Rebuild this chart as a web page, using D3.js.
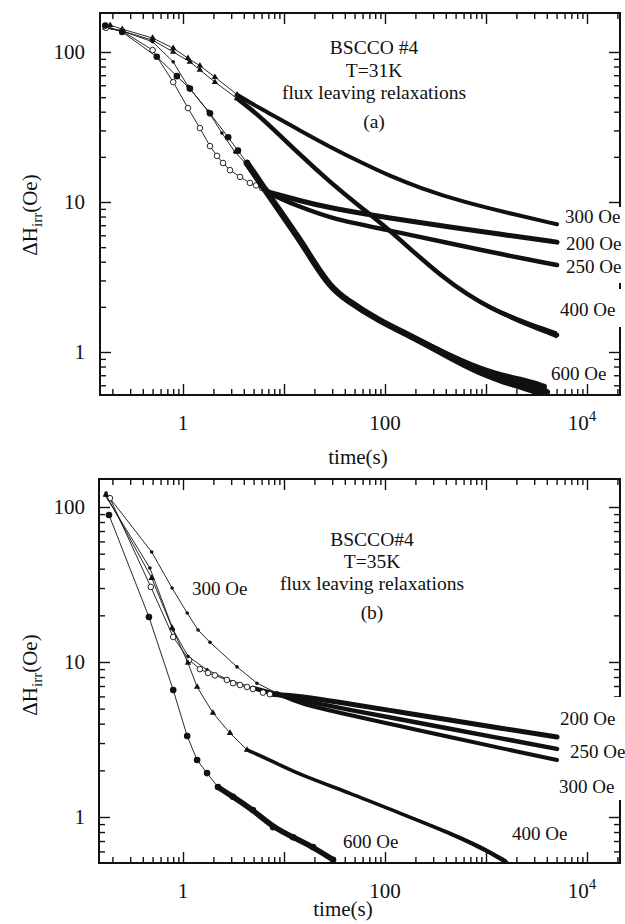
<!DOCTYPE html>
<html>
<head>
<meta charset="utf-8">
<script src="https://cdn.jsdelivr.net/npm/d3@7"></script>
<style>
  body { margin: 0; background: #fff; }
  svg text { font-family: "Liberation Serif", "Times New Roman", serif; fill: #111; }
</style>
</head>
<body>
<svg id="chart" width="625" height="924"></svg>
<script>
// (a) T=31K  -- [time (s), dH_irr (Oe)]
const a200 = [[0.173,145],[0.25,138],[0.5,103],[0.8,63],[1.12,42.3],[1.47,31.1],[1.85,23.6],[2.17,20.3],[2.49,18.2],[2.92,16.3],[3.67,14.7],[4.6,13.4],[5.3,12.9],[6.05,12.4],[6.8,11.7],[14.4,10.2],[28.5,9.1],[112,7.8],[440,6.8],[1376,6.1],[5050,5.4]];
const a250 = [[0.173,145],[0.25,138],[0.5,117],[0.8,86],[1.12,59],[1.77,40.4],[2.43,28.8],[3.27,21.5],[4.3,17.7],[5.5,14.0],[6.9,11.3],[14.4,9.3],[28.5,7.8],[95,6.6],[440,5.3],[1376,4.5],[5050,3.8]];
const a300 = [[0.19,151],[0.25,142],[0.5,124],[0.8,106],[1.12,91],[1.47,81],[2.07,68],[3.43,52],[5.8,42],[14.4,30],[28.5,23.3],[56.5,18.5],[112,14.9],[222,12.4],[592,10.0],[1850,8.3],[5050,7.1]];
const a400 = [[0.17,145],[0.25,138],[0.5,120],[0.8,100],[1.17,86],[1.47,76],[2.07,63],[3.43,49],[5.8,37.4],[14.4,20.6],[28.5,13.6],[56.5,9.3],[112,6.5],[350,3.2],[1100,1.9],[5050,1.3]];
const a600 = [[0.17,150],[0.25,136],[0.55,93],[0.87,69],[1.17,57],[1.85,39],[2.8,27],[3.5,22],[4.3,18.2],[6.8,11.5],[14.4,5.6],[20,3.9],[28.5,2.75],[40,2.25],[89,1.6],[189,1.26],[873,0.72],[2730,0.6],[4000,0.54]];

// (b) T=35K
const b200 = [[0.189,114],[0.48,30.5],[0.8,14.5],[1.15,10.3],[1.47,9.0],[1.77,8.5],[2.07,8.2],[2.72,7.66],[3.13,7.3],[3.67,7.1],[4.3,6.9],[4.93,6.7],[6.2,6.35],[7.25,6.2],[14.4,6.04],[44.8,5.36],[140,4.76],[437,4.22],[1370,3.75],[5050,3.28]];
const b250 = [[0.17,119],[0.47,40.4],[0.8,16.1],[1.12,10.9],[1.73,8.9],[2.72,7.76],[4.93,6.8],[9.1,6.1],[14.4,5.69],[44.8,4.9],[140,4.28],[437,3.7],[1370,3.23],[5050,2.75]];
const b300 = [[0.173,123],[0.49,51.2],[0.78,30],[1.1,20.7],[1.41,16.1],[1.85,13.4],[3.43,9.3],[5.4,7.3],[8.5,6.3],[14.4,5.36],[44.8,4.55],[140,3.86],[437,3.28],[1370,2.79],[5050,2.33]];
const b400 = [[0.173,119.5],[0.49,34.8],[0.78,16.6],[1.12,9.86],[1.38,6.9],[1.98,4.69],[2.92,3.48],[4.3,2.71],[7.3,2.33],[14.4,1.87],[44.8,1.43],[140,1.06],[437,0.79],[1020,0.61],[1600,0.51]];
const b600 = [[0.185,88.8],[0.46,19.5],[0.8,6.6],[1.1,3.33],[1.38,2.33],[1.73,1.92],[2.22,1.56],[3.13,1.35],[4.93,1.11],[7.8,0.86],[12.3,0.74],[19.4,0.64],[30.6,0.53]];

const xMajor = [1, 10, 100, 1000, 10000];
const yMajor = [1, 10, 100];
const xTickLabels = [[1, '1'], [100, '100'], [10000, '10', '4']];
const yTickLabels = [[1, '1'], [10, '10'], [100, '100']];
const titleLinesA = ['BSCCO #4', 'T=31K', 'flux leaving relaxations', '(a)'];
const titleLinesB = ['BSCCO#4', 'T=35K', 'flux leaving relaxations', '(b)'];

const svg = d3.select('#chart');

function logMinor(lo, hi) {
    let out = [];
    for (let e = Math.floor(Math.log10(lo)); e <= Math.ceil(Math.log10(hi)); e++) {
        for (let m = 2; m <= 9; m++) {
            let v = m * Math.pow(10, e);
            if (v > lo && v < hi) out.push(v);
        }
    }
    return out;
}

function drawPanel(p) {
    let x = d3.scaleLog().domain([1, 1e4]).range([183, 587]);
    let y = d3.scaleLog().domain([1, 100]).range(p.yRange);
    let g = svg.append('g');

    let clipId = 'clip' + p.id;
    svg.append('clipPath').attr('id', clipId)
        .append('rect')
        .attr('x', p.left).attr('y', p.top)
        .attr('width', p.right - p.left).attr('height', p.bottom - p.top);

    let xMinor = logMinor(x.invert(p.left), x.invert(p.right));
    let yMinor = logMinor(y.invert(p.bottom), y.invert(p.top));

    // ticks on all four sides, pointing inward
    let axes = [
        [d3.axisBottom, 0, p.bottom, x, xMajor, xMinor],
        [d3.axisTop, 0, p.top, x, xMajor, xMinor],
        [d3.axisLeft, p.left, 0, y, yMajor, yMinor],
        [d3.axisRight, p.right, 0, y, yMajor, yMinor]
    ];
    axes.forEach(([fn, tx, ty, sc, major, minor]) => {
        [[major, -11], [minor, -6]].forEach(([vals, size]) => {
            let a = g.append('g')
                .attr('transform', 'translate(' + tx + ',' + ty + ')')
                .call(fn(sc).tickValues(vals).tickSize(size).tickFormat(''));
            a.select('.domain').remove();
            a.selectAll('line').attr('stroke', '#111').attr('stroke-width', 1.4);
        });
    });

    g.append('rect')
        .attr('x', p.left).attr('y', p.top)
        .attr('width', p.right - p.left).attr('height', p.bottom - p.top)
        .attr('fill', 'none').attr('stroke', '#111').attr('stroke-width', 2);

    // tick labels
    xTickLabels.forEach(d => {
        let t = g.append('text')
            .attr('x', x(d[0]) - (d[2] ? 5 : 0)).attr('y', p.bottom + p.xLabDy)
            .attr('text-anchor', 'middle').attr('font-size', 21)
            .text(d[1]);
        if (d[2]) t.append('tspan').attr('dy', -9).attr('font-size', 15).text(d[2]);
    });
    yTickLabels.forEach(d => {
        g.append('text')
            .attr('x', 85).attr('y', y(d[0]) + 7)
            .attr('text-anchor', 'end').attr('font-size', 21)
            .text(d[1]);
    });

    g.append('text')
        .attr('x', p.xTitle[0]).attr('y', p.xTitle[1])
        .attr('text-anchor', 'middle').attr('font-size', 21)
        .text('time(s)');

    let yl = g.append('text')
        .attr('transform', 'translate(37,' + p.yTitleY + ') rotate(-90)')
        .attr('text-anchor', 'middle').attr('font-size', 21);
    yl.append('tspan').text('\u0394H');
    yl.append('tspan').attr('dy', 5).attr('font-size', 15).text('irr');
    yl.append('tspan').attr('dy', -5).text('(Oe)');

    // data
    let smooth = d3.line().x(d => x(d[0])).y(d => y(d[1])).curve(d3.curveBasis);
    let thin = d3.line().x(d => x(d[0])).y(d => y(d[1]));
    let dg = g.append('g').attr('clip-path', 'url(#' + clipId + ')');
    p.series.forEach(s => {
        let early = s.data.filter(d => d[0] <= s.tThick * 1.01);
        dg.append('path').datum(early)
            .attr('d', thin).attr('fill', 'none')
            .attr('stroke', '#111').attr('stroke-width', 0.9);
        dg.append('path').datum(s.data.filter(d => d[0] >= s.tThick))
            .attr('d', smooth).attr('fill', 'none')
            .attr('stroke', '#111').attr('stroke-width', s.w)
            .attr('stroke-linecap', 'round').attr('stroke-linejoin', 'round');
        if (s.tTail) {
            // noisy tail: band that widens towards the end of the run
            let tail = s.data.filter(d => d[0] >= s.tTail);
            let x0 = x(tail[0][0]), x1 = x(tail[tail.length - 1][0]);
            let hw = d => (s.wTail / 2) * (x(d[0]) - x0) / (x1 - x0);
            dg.append('path').datum(tail)
                .attr('d', d3.area().curve(d3.curveBasis)
                    .x(d => x(d[0]))
                    .y0(d => y(d[1]) - hw(d))
                    .y1(d => y(d[1]) + hw(d)))
                .attr('fill', '#111');
        }
        let pts = dg.append('g').selectAll('g')
            .data(s.data.filter(d => d[0] < s.tMark)).enter()
            .append('g')
            .attr('transform', d => 'translate(' + x(d[0]) + ',' + y(d[1]) + ')');
        if (s.marker === 'open') {
            pts.append('circle').attr('r', 2.8).attr('fill', '#fff')
                .attr('stroke', '#111').attr('stroke-width', 0.9);
        } else if (s.marker === 'big') {
            pts.append('circle').attr('r', 3.3).attr('fill', '#111');
        } else if (s.marker === 'tri') {
            pts.append('path').attr('d', d3.symbol(d3.symbolTriangle, 18)()).attr('fill', '#111');
        } else {
            pts.append('circle').attr('r', 1.8).attr('fill', '#111');
        }
    });

    // white boxes behind the right-hand labels (they hide the frame there)
    p.gaps.forEach(gp => {
        g.append('rect').attr('x', 562).attr('y', gp[0])
            .attr('width', 62).attr('height', gp[1] - gp[0]).attr('fill', '#fff');
    });

    p.titles.forEach((t, i) => {
        g.append('text')
            .attr('x', p.titleX).attr('y', p.titleY[i])
            .attr('text-anchor', 'middle').attr('font-size', 19.5)
            .text(t);
    });

    p.labels.forEach(l => {
        g.append('text')
            .attr('x', l[1]).attr('y', l[2])
            .attr('font-size', 19)
            .text(l[0]);
    });
}

drawPanel({
    id: 'a', left: 100, right: 620, top: 13, bottom: 395,
    yRange: [352, 52], xLabDy: 35, xTitle: [358, 464], yTitleY: 215,
    titleX: 374, titleY: [54, 77, 99, 128], titles: titleLinesA,
    gaps: [[207, 283], [289, 327]],
    labels: [['300 Oe', 565, 223], ['200 Oe', 566, 250], ['250 Oe', 566, 273], ['400 Oe', 560, 316], ['600 Oe', 551, 380]],
    series: [
        {data: a300, marker: 'tri', tMark: 3.5, tThick: 3.4, w: 4},
        {data: a400, marker: 'tri', tMark: 3.5, tThick: 3.4, w: 4.5, tTail: 112, wTail: 7},
        {data: a250, marker: 'dot', tMark: 4.4, tThick: 4.3, w: 4.5},
        {data: a200, marker: 'open', tMark: 7, tThick: 6.8, w: 5},
        {data: a600, marker: 'big', tMark: 4.4, tThick: 4.3, w: 6.5, tTail: 28.5, wTail: 15}
    ]
});

drawPanel({
    id: 'b', left: 99, right: 620, top: 479, bottom: 863,
    yRange: [817, 507], xLabDy: 35, xTitle: [343, 916], yTitleY: 675,
    titleX: 372, titleY: [546, 568, 590, 619], titles: titleLinesB,
    gaps: [[697, 800]],
    labels: [['300 Oe', 192, 595], ['200 Oe', 560, 725], ['250 Oe', 570, 758], ['300 Oe', 559, 793], ['400 Oe', 512, 840], ['600 Oe', 343, 848]],
    series: [
        {data: b300, marker: 'dot', tMark: 9, tThick: 8.5, w: 4},
        {data: b250, marker: 'dot', tMark: 5, tThick: 4.9, w: 4.5},
        {data: b200, marker: 'open', tMark: 10, tThick: 7.2, w: 5},
        {data: b400, marker: 'tri', tMark: 4.5, tThick: 4.3, w: 3.5, tTail: 14.4, wTail: 5.5},
        {data: b600, marker: 'big', tMark: 1000, tThick: 2.2, w: 5.5}
    ]
});
</script>
</body>
</html>
